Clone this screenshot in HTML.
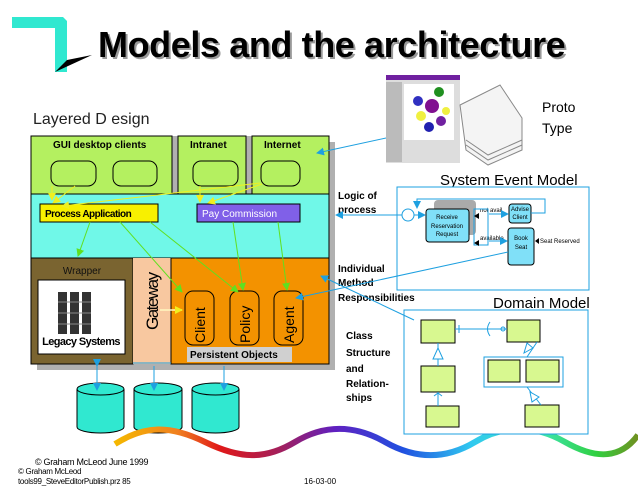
<!DOCTYPE html>
<html><head><meta charset="utf-8"><style>
html,body{margin:0;padding:0;background:#fff;}
svg{display:block;font-family:"Liberation Sans",sans-serif;}
</style></head><body>
<svg width="638" height="493" viewBox="0 0 638 493" xmlns="http://www.w3.org/2000/svg">
<defs>
<linearGradient id="wv" x1="0" x2="1" y1="0" y2="0">
<stop offset="0" stop-color="#f5b800"/><stop offset="0.12" stop-color="#f08020"/><stop offset="0.2" stop-color="#e01818"/><stop offset="0.32" stop-color="#a02060"/><stop offset="0.42" stop-color="#6020c0"/><stop offset="0.55" stop-color="#2050e0"/><stop offset="0.68" stop-color="#30c8f0"/><stop offset="0.8" stop-color="#40e8c0"/><stop offset="0.92" stop-color="#30d040"/><stop offset="1" stop-color="#709020"/>
</linearGradient>
<marker id="ab" markerWidth="8" markerHeight="8" refX="7" refY="4" orient="auto" markerUnits="userSpaceOnUse"><path d="M0,0 L8,4 L0,8 z" fill="#1ea0e0"/></marker>
<marker id="ag" markerWidth="8" markerHeight="8" refX="7" refY="4" orient="auto" markerUnits="userSpaceOnUse"><path d="M0,0 L8,4 L0,8 z" fill="#60e020"/></marker>
<marker id="ay" markerWidth="8" markerHeight="8" refX="7" refY="4" orient="auto" markerUnits="userSpaceOnUse"><path d="M0,0 L8,4 L0,8 z" fill="#f0f020"/></marker>
</defs>
<!-- logo -->
<path d="M12,17 L63,17 L67,21 L67,72 L55,72 L55,28 L12,28 Z" fill="#30e8d0"/>
<path d="M55,72 L92,55 L67,60 Z" fill="#000"/>
<text x="100" y="59" font-size="36" font-weight="bold" fill="#999" letter-spacing="-0.4">Models and the architecture</text>
<text x="98" y="57" font-size="36" font-weight="bold" fill="#000" letter-spacing="-0.4">Models and the architecture</text>
<text x="33" y="124" font-size="16" fill="#222">Layered D esign</text>
<!-- shadow -->
<rect x="37" y="142" width="298" height="228" fill="#b0b0b0"/>
<!-- green row -->
<rect x="31" y="136" width="298" height="58" fill="#b0b0b0"/>
<rect x="31" y="136" width="141" height="58" fill="#b4f060" stroke="#000" stroke-width="1"/>
<rect x="178" y="136" width="68" height="58" fill="#b4f060" stroke="#000" stroke-width="1"/>
<rect x="252" y="136" width="77" height="58" fill="#b4f060" stroke="#000" stroke-width="1"/>
<g font-size="10" font-weight="bold" fill="#000">
<text x="53" y="148">GUI desktop clients</text><text x="190" y="148">Intranet</text><text x="264" y="148">Internet</text></g>
<g fill="#b4f060" stroke="#000"><rect x="51" y="161" width="45" height="25" rx="8"/><rect x="113" y="161" width="44" height="25" rx="8"/><rect x="193" y="161" width="45" height="25" rx="8"/><rect x="261" y="161" width="39" height="25" rx="8"/></g>
<!-- cyan -->
<rect x="31" y="194" width="298" height="64" fill="#70f8e8" stroke="#000"/>
<rect x="40" y="204" width="118" height="18" fill="#f8f000" stroke="#000"/>
<text x="45" y="217" font-size="10" font-weight="bold" letter-spacing="-0.5">Process Application</text>
<rect x="197" y="204" width="103" height="18" fill="#8060e8" stroke="#000"/>
<text x="202" y="217" font-size="10" fill="#fff">Pay Commission</text>
<!-- lower -->
<rect x="31" y="258" width="102" height="106" fill="#7a6430" stroke="#000"/>
<text x="82" y="274" font-size="10" fill="#111" text-anchor="middle">Wrapper</text>
<rect x="38" y="280" width="87" height="74" fill="#fff" stroke="#000"/>
<g fill="#333"><rect x="58" y="292" width="9" height="42"/><rect x="70" y="292" width="9" height="42"/><rect x="82" y="292" width="9" height="42"/></g>
<g stroke="#888" stroke-width="1"><line x1="58" y1="302" x2="91" y2="302"/><line x1="58" y1="313" x2="91" y2="313"/><line x1="58" y1="324" x2="91" y2="324"/></g>
<text x="81" y="345" font-size="11" font-weight="bold" text-anchor="middle" letter-spacing="-0.6">Legacy Systems</text>
<rect x="133" y="258" width="38" height="106" fill="#f8c8a0"/>
<text transform="translate(158,330) rotate(-90)" font-size="17" letter-spacing="-1.5">Gateway</text>
<rect x="171" y="258" width="158" height="106" fill="#f39200" stroke="#000"/>
<g fill="#f39200" stroke="#000"><rect x="185" y="291" width="29" height="54" rx="8"/><rect x="230" y="291" width="29" height="54" rx="8"/><rect x="274" y="291" width="29" height="54" rx="8"/></g>
<g font-size="14"><text transform="translate(205,343) rotate(-90)">Client</text><text transform="translate(250,343) rotate(-90)">Policy</text><text transform="translate(294,343) rotate(-90)">Agent</text></g>
<rect x="187" y="347" width="105" height="15" fill="#d0d0d0"/>
<text x="190" y="358" font-size="10" font-weight="bold">Persistent Objects</text>
<line x1="160" y1="310" x2="182" y2="310" stroke="#fff8c0" stroke-width="1.5" marker-end="url(#ay)"/>
<!-- yellow arrows -->
<g stroke="#f0f020" stroke-width="1" fill="none">
<line x1="75" y1="186" x2="53" y2="203" marker-end="url(#ay)"/><line x1="52" y1="186" x2="52" y2="200" marker-end="url(#ay)"/>
<line x1="260" y1="183" x2="62" y2="206" marker-end="url(#ay)"/>
<line x1="200" y1="186" x2="200" y2="202" marker-end="url(#ay)"/><line x1="262" y1="184" x2="208" y2="203" marker-end="url(#ay)"/></g>
<!-- green arrows -->
<g stroke="#60e020" stroke-width="1" fill="none">
<line x1="90" y1="222" x2="78" y2="256" marker-end="url(#ag)"/>
<line x1="120" y1="222" x2="182" y2="292" marker-end="url(#ag)"/>
<line x1="150" y1="222" x2="238" y2="292" marker-end="url(#ag)"/>
<line x1="233" y1="222" x2="243" y2="290" marker-end="url(#ag)"/>
<line x1="278" y1="222" x2="287" y2="290" marker-end="url(#ag)"/></g>
<!-- cylinders -->
<g fill="#30e8d0" stroke="#000">
<path d="M77,389 v38 a23.5,6 0 0 0 47,0 v-38"/><ellipse cx="100.5" cy="389" rx="23.5" ry="6"/>
<path d="M134,389 v38 a24,6 0 0 0 48,0 v-38"/><ellipse cx="158" cy="389" rx="24" ry="6"/>
<path d="M192,389 v38 a23.5,6 0 0 0 47,0 v-38"/><ellipse cx="215.5" cy="389" rx="23.5" ry="6"/></g>
<g stroke="#1ea0e0" stroke-width="1"><line x1="97" y1="366" x2="97" y2="390" marker-end="url(#ab)" marker-start="url(#ab)"/><line x1="154" y1="366" x2="154" y2="390" marker-end="url(#ab)"/><line x1="224" y1="366" x2="224" y2="390" marker-end="url(#ab)"/><line x1="133" y1="363" x2="171" y2="363"/></g>
<!-- wave -->
<path d="M115,444 C145,425 170,425 205,442 S265,460 295,442 S355,425 385,442 S445,460 475,442 S535,425 565,442 S620,460 638,435" fill="none" stroke="url(#wv)" stroke-width="6"/>
<!-- right labels -->
<g font-size="10" font-weight="bold" fill="#000">
<text x="338" y="199">Logic of</text><text x="338" y="213">process</text>
<text x="338" y="272">Individual</text><text x="338" y="286">Method</text><text x="338" y="301">Responsibilities</text>
<text x="346" y="339">Class</text><text x="346" y="356">Structure</text><text x="346" y="372">and</text><text x="346" y="387">Relation-</text><text x="346" y="401">ships</text></g>
<!-- prototype image -->
<rect x="386" y="75" width="74" height="88" fill="#ddd"/>
<rect x="386" y="75" width="74" height="5" fill="#7020a0"/>
<rect x="386" y="82" width="16" height="80" fill="#bbb"/>
<rect x="404" y="84" width="50" height="56" fill="#fff"/>
<circle cx="432" cy="106" r="7" fill="#801090"/><circle cx="439" cy="92" r="5" fill="#209020"/><circle cx="418" cy="101" r="5" fill="#3030c0"/><circle cx="421" cy="116" r="5" fill="#f0f040"/><circle cx="429" cy="127" r="5" fill="#2020b0"/><circle cx="441" cy="121" r="5" fill="#7020a0"/><circle cx="446" cy="111" r="4" fill="#f0f040"/>
<path d="M460,105 L500,85 L522,118 L522,150 L488,165 L466,150 Z" fill="#f4f4f4" stroke="#888"/>
<path d="M466,140 L488,155 L522,140 M466,145 L488,160 L522,145" stroke="#888" fill="none"/>
<text x="542" y="112" font-size="14">Proto</text><text x="542" y="133" font-size="14">Type</text>
<line x1="386" y1="138" x2="317" y2="153" stroke="#1ea0e0" marker-end="url(#ab)"/>
<!-- System event model -->
<text x="440" y="185" font-size="15">System Event Model</text>
<rect x="397" y="187" width="192" height="103" fill="#fff" stroke="#1ea0e0"/>
<line x1="402" y1="215" x2="336" y2="215" stroke="#1ea0e0" marker-end="url(#ab)"/>
<rect x="434" y="200" width="42" height="35" rx="4" fill="#aaa"/>
<circle cx="408" cy="215" r="6" fill="#fff" stroke="#1ea0e0"/>
<rect x="426" y="209" width="43" height="33" rx="3" fill="#80e0f8" stroke="#000"/>
<g font-size="6" text-anchor="middle"><text x="447" y="219">Receive</text><text x="447" y="228">Reservation</text><text x="447" y="236">Request</text></g>
<rect x="509" y="204" width="22" height="19" rx="3" fill="#80e0f8" stroke="#000"/>
<g font-size="6" text-anchor="middle"><text x="520" y="211">Advise</text><text x="520" y="219">Client</text></g>
<rect x="508" y="228" width="26" height="37" rx="3" fill="#80e0f8" stroke="#000"/>
<g font-size="6" text-anchor="middle"><text x="521" y="240">Book</text><text x="521" y="249">Seat</text></g>
<text x="540" y="243" font-size="6">Seat Reserved</text>
<text x="480" y="212" font-size="6">not avail</text><text x="480" y="240" font-size="6">available</text>
<g stroke="#1ea0e0" fill="none"><rect x="474" y="209" width="14" height="36"/>
<path d="M531,213 H545 V199 H417 V208" marker-end="url(#ab)"/>
<line x1="414" y1="215" x2="425" y2="215" marker-end="url(#ab)"/>
<line x1="489" y1="214" x2="508" y2="214" marker-end="url(#ab)"/>
<line x1="489" y1="241" x2="507" y2="241" marker-end="url(#ab)"/>
<line x1="508" y1="252" x2="296" y2="298" marker-end="url(#ab)"/></g>
<path d="M474,216 l5,-3 v6z M474,243 l5,-3 v6z M535,241 l4,-3 v6z" fill="#000"/>
<!-- domain model -->
<text x="493" y="308" font-size="15">Domain Model</text>
<rect x="404" y="310" width="184" height="124" fill="#fff" stroke="#1ea0e0"/>
<line x1="414" y1="320" x2="321" y2="276" stroke="#1ea0e0" marker-end="url(#ab)"/>
<g fill="#d8f890" stroke="#000"><rect x="421" y="320" width="34" height="23"/><rect x="507" y="320" width="33" height="22"/><rect x="421" y="366" width="34" height="26"/><rect x="426" y="406" width="33" height="21"/><rect x="525" y="405" width="34" height="22"/></g>
<rect x="484" y="357" width="79" height="30" fill="#fff" stroke="#1ea0e0"/>
<g fill="#d8f890" stroke="#000"><rect x="488" y="360" width="32" height="22"/><rect x="526" y="360" width="33" height="22"/></g>
<g stroke="#1ea0e0" fill="none"><line x1="455" y1="329" x2="507" y2="329"/><line x1="459" y1="325" x2="459" y2="333"/><path d="M490,322 q-5,7 0,14"/><circle cx="503" cy="329" r="2"/>
<line x1="438" y1="343" x2="438" y2="366"/><path d="M438,348 l-5,11 h10z" fill="#fff"/>
<line x1="438" y1="392" x2="438" y2="406"/><path d="M434,396 l4,-3 l4,3"/>
<line x1="537" y1="342" x2="527" y2="357"/><path d="M533,348 l-9,5 l3,-10z" fill="#fff"/>
<line x1="527" y1="387" x2="541" y2="405"/><path d="M530,392 l2,10 l7,-5z" fill="#fff"/></g>
<!-- footer -->
<text x="35" y="465" font-size="9" letter-spacing="-0.3">© Graham McLeod  June 1999</text>
<text x="18" y="474" font-size="8" letter-spacing="-0.3">© Graham McLeod</text>
<text x="18" y="484" font-size="8" letter-spacing="-0.3">tools99_SteveEditorPublish.prz 85</text>
<text x="304" y="484" font-size="8">16-03-00</text>
</svg>
</body></html>
